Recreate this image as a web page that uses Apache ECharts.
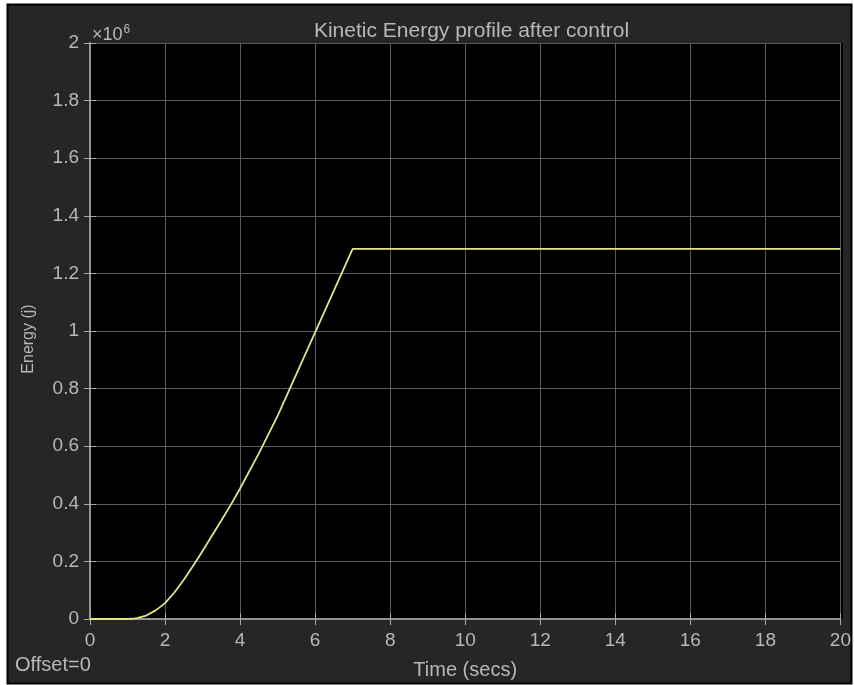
<!DOCTYPE html>
<html><head><meta charset="utf-8">
<script src="https://cdn.jsdelivr.net/npm/echarts@6/dist/echarts.min.js"></script>
<style>html,body{margin:0;padding:0;background:#fff;}#c{width:854px;height:685px;}</style>
</head><body><div id="c"></div>
<script>
const titleText = 'Kinetic Energy profile after control';
const xLabel = 'Time (secs)';
const yLabel = 'Energy (j)';
const timeSecs = [0, 1.0, 1.12, 1.25, 1.5, 1.75, 2.0, 2.25, 2.5, 2.78, 3.0, 3.5, 3.76, 4.0, 4.5, 5.0, 5.5, 6.0, 6.5, 7.0, 20];
const energyJ = [0, 0, 800, 3000, 12000, 30000, 55000, 92000, 136000, 191000, 236000, 342000, 398000, 453000, 575000, 705000, 850000, 995000, 1140000, 1285000, 1285000];
const xTicks = [0, 2, 4, 6, 8, 10, 12, 14, 16, 18, 20];
const yTicks = [0, 0.2, 0.4, 0.6, 0.8, 1, 1.2, 1.4, 1.6, 1.8, 2];

const chart = echarts.init(document.getElementById('c'), null, {renderer: 'canvas'});
const labelColor = '#b8b8b8';
const font = 'Liberation Sans, Arial, sans-serif';
const gridColor = '#5c5c5c';
const frameColor = '#9a9a9a';
const pts = timeSecs.map((t, i) => [t, energyJ[i]]);
chart.setOption({
  backgroundColor: '#ffffff',
  animation: false,
  graphic: [
    {type: 'rect', shape: {x: 7.5, y: 4.5, width: 844, height: 679}, style: {fill: '#262626', stroke: '#000', lineWidth: 2}, z: -10},
    {type: 'rect', shape: {x: 90, y: 43, width: 753, height: 576}, style: {fill: '#000'}, z: -5},
    {type: 'text', left: 15, top: 655, style: {text: 'Offset=0', fill: labelColor, font: '20px ' + font}},
    {type: 'text', left: 92, top: 24, style: {text: '×10{s|6}', rich: {s: {fontSize: 12, verticalAlign: 'top', padding: [0,0,10,1], fill: labelColor, fontFamily: font}}, fill: labelColor, font: '18px ' + font}}
  ],
  title: {text: titleText, left: 466.5, textAlign: 'center', top: 16, textStyle: {color: labelColor, fontSize: 21, fontWeight: 'normal', fontFamily: font}},
  grid: {left: 90, top: 43, right: 11, bottom: 66, containLabel: false},
  xAxis: [{
    type: 'value', min: 0, max: 20, interval: 2,
    name: xLabel, nameLocation: 'middle', nameGap: 41,
    nameTextStyle: {color: labelColor, fontSize: 20, fontFamily: font},
    axisLine: {show: true, lineStyle: {color: frameColor, width: 1.5}},
    axisTick: {show: true, inside: true, length: 6, lineStyle: {color: '#aaa'}},
    axisLabel: {color: labelColor, fontSize: 19, fontFamily: font, margin: 12, formatter: v => xTicks.includes(v) ? String(v) : ''},
    splitLine: {show: true, lineStyle: {color: gridColor, width: 1}}
  }, {
    type: 'value', position: 'top', min: 0, max: 20, interval: 2,
    axisLine: {show: true, lineStyle: {color: frameColor, width: 1.5}},
    axisTick: {show: true, inside: true, length: 6, lineStyle: {color: '#aaa'}},
    axisLabel: {show: false}, splitLine: {show: false}
  }],
  yAxis: [{
    type: 'value', min: 0, max: 2000000, interval: 200000,
    name: yLabel, nameLocation: 'middle', nameGap: 53,
    nameTextStyle: {color: labelColor, fontSize: 16, fontFamily: font, padding: [0, 16, 0, 0]},
    axisLine: {show: true, lineStyle: {color: frameColor, width: 1.5}},
    axisTick: {show: true, inside: true, length: 6, lineStyle: {color: '#aaa'}},
    axisLabel: {color: labelColor, fontSize: 19, fontFamily: font, margin: 11, formatter: v => {
      const r = Math.round(v / 100000) / 10; return yTicks.includes(r) ? String(r) : '';
    }},
    splitLine: {show: true, lineStyle: {color: gridColor, width: 1}}
  }, {
    type: 'value', position: 'right', min: 0, max: 2000000, interval: 200000,
    axisLine: {show: true, lineStyle: {color: frameColor, width: 1.5}},
    axisTick: {show: true, inside: true, length: 6, lineStyle: {color: '#aaa'}},
    axisLabel: {show: false}, splitLine: {show: false}
  }],
  series: [{
    type: 'line', data: pts, xAxisIndex: 0, yAxisIndex: 0,
    showSymbol: false, smooth: false,
    lineStyle: {color: '#e3e38a', width: 1.8},
    z: 5
  }]
});
</script></body></html>
